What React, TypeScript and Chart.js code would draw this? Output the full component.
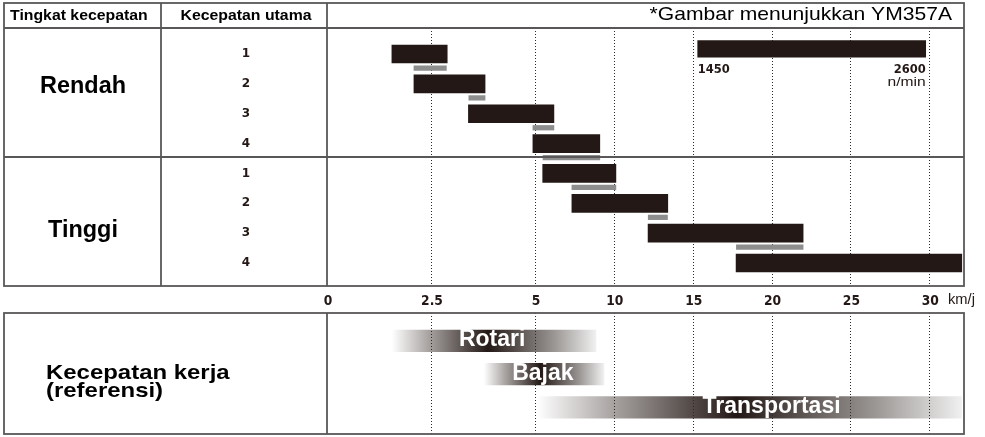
import React, { useEffect, useRef } from 'react';
import { Chart, registerables, LinearScale } from 'chart.js';

Chart.register(...registerables);

// ---------------- data ----------------
const HEADER_LABELS = ['Tingkat kecepatan', 'Kecepatan utama'];
const NOTE_TEXT = '*Gambar menunjukkan YM357A';
const RANGE_LABELS = ['Rendah', 'Tinggi'];
const GEAR_LABELS = ['1', '2', '3', '4'];

const SPEED_TICKS = [0, 2.5, 5, 10, 15, 20, 25, 30];
const SPEED_TICK_LABELS = ['0', '2.5', '5', '10', '15', '20', '25', '30'];
const SPEED_UNIT = 'km/j';

// main gear speed ranges (km/j)
const LOW_START = [1.56, 2.09, 3.4, 4.95];
const LOW_END = [2.89, 3.8, 6.2, 9.11];
const HIGH_START = [5.49, 7.34, 12.17, 17.75];
const HIGH_END = [10.13, 13.42, 22.0, 32.06];

// overlap with next gear (grey strips)
const LOW_OVERLAP_START = [2.09, 3.41, 4.95, 5.51];
const LOW_OVERLAP_END = [2.87, 3.8, 6.2, 9.11];
const HIGH_OVERLAP_START = [7.34, 12.18, 17.77];
const HIGH_OVERLAP_END = [10.13, 13.4, 22.0];

// engine speed
const ENGINE_RPM = [1450, 2600];
const ENGINE_RPM_LABELS = ['1450', '2600'];
const RPM_UNIT = 'n/min';

// working speeds (reference)
const WORK_TITLE = ['Kecepatan kerja', '(referensi)'];
const WORK_LABELS = ['Rotari', 'Bajak', 'Transportasi'];
const WORK_START = [1.56, 3.77, 5.13];
const WORK_END = [8.86, 9.37, 32.05];
const WORK_LABEL_AT = [3.97, 5.5, 20.0];

// ---------------- layout ----------------
const W = 985;
const H = 437;
const TABLE_L = 4;
const TABLE_R = 964;
const TABLE_T = 3;
const COL1 = 161;
const COL2 = 327;
const HEAD_B = 28;
const MID_LINE = 157;
const UPPER_B = 286;
const LOWER_T = 313;
const LOWER_B = 434;

const BLACK = '#231815';
const GREY = '#8e8e8e';
const LINE = '#595757';

const SPEED_AXIS_MAX = 32.2;
const SPEED_BREAK = 5;
const SPEED_BREAK_FRAC = 0.3265;

const RPM_AXIS_MIN = -419.8;
const RPM_AXIS_MAX = 2793.2;

const speedToFrac = (v: number) =>
  v <= SPEED_BREAK
    ? (v / SPEED_BREAK) * SPEED_BREAK_FRAC
    : SPEED_BREAK_FRAC + ((v - SPEED_BREAK) / (SPEED_AXIS_MAX - SPEED_BREAK)) * (1 - SPEED_BREAK_FRAC);
const fracToSpeed = (f: number) =>
  f <= SPEED_BREAK_FRAC
    ? (f / SPEED_BREAK_FRAC) * SPEED_BREAK
    : SPEED_BREAK + ((f - SPEED_BREAK_FRAC) / (1 - SPEED_BREAK_FRAC)) * (SPEED_AXIS_MAX - SPEED_BREAK);

class SpeedScale extends LinearScale {
  static id = 'speed';
  static defaults = {};
  getPixelForValue(value: any) {
    if (value === null || value === undefined || isNaN(value)) return NaN;
    return this.getPixelForDecimal(speedToFrac(value));
  }
  getValueForPixel(pixel: number) {
    return fracToSpeed(this.getDecimalForPixel(pixel));
  }
}
Chart.register(SpeedScale as any);

const SANS = '"Liberation Sans", Arial, sans-serif';
const DEJA = '"DejaVu Sans", Verdana, sans-serif';

function txt(
  ctx: CanvasRenderingContext2D,
  s: string,
  x: number,
  y: number,
  font: string,
  align: 'left' | 'center' | 'right' = 'left',
  sx = 1,
  color = '#000',
  baseline: CanvasTextBaseline = 'alphabetic'
) {
  ctx.save();
  ctx.font = font;
  ctx.fillStyle = color;
  ctx.textAlign = 'left';
  ctx.textBaseline = baseline;
  const w = ctx.measureText(s).width * sx;
  const left = align === 'center' ? x - w / 2 : align === 'right' ? x - w : x;
  ctx.translate(left, y);
  ctx.scale(sx, 1);
  ctx.fillText(s, 0, 0);
  ctx.restore();
}

function vline(ctx: CanvasRenderingContext2D, x: number, y0: number, y1: number) {
  ctx.beginPath();
  ctx.moveTo(x, y0);
  ctx.lineTo(x, y1);
  ctx.stroke();
}
function hline(ctx: CanvasRenderingContext2D, y: number, x0: number, x1: number) {
  ctx.beginPath();
  ctx.moveTo(x0, y);
  ctx.lineTo(x1, y);
  ctx.stroke();
}

function drawGrid(chart: any, y0: number, y1: number) {
  const { ctx } = chart;
  const xs = chart.scales.x;
  ctx.save();
  ctx.strokeStyle = '#2a2a2a';
  ctx.lineWidth = 1;
  ctx.setLineDash([1, 2]);
  xs.ticks.forEach((t: any) => {
    if (t.value === 0) return;
    const px = Math.round(xs.getPixelForValue(t.value)) + 0.5;
    vline(ctx, px, y0, y1);
  });
  ctx.restore();
}

const diagramPlugin = {
  id: 'diagram',
  beforeDatasetsDraw(chart: any) {
    drawGrid(chart, HEAD_B, UPPER_B);
  },
  afterDatasetsDraw(chart: any) {
    const { ctx } = chart;
    const xs = chart.scales.x;
    const ys = chart.scales.y;
    const yw = chart.scales.yWork;
    const xr = chart.scales.xRpm;

    drawGrid(chart, LOWER_T, LOWER_B);

    // table lines
    ctx.save();
    ctx.strokeStyle = LINE;
    ctx.lineWidth = 1.8;
    ctx.strokeRect(TABLE_L, TABLE_T, TABLE_R - TABLE_L, UPPER_B - TABLE_T);
    vline(ctx, COL1, TABLE_T, UPPER_B);
    vline(ctx, COL2, TABLE_T, UPPER_B);
    hline(ctx, HEAD_B, TABLE_L, TABLE_R);
    hline(ctx, MID_LINE, TABLE_L, TABLE_R);
    ctx.strokeRect(TABLE_L, LOWER_T, TABLE_R - TABLE_L, LOWER_B - LOWER_T);
    vline(ctx, COL2, LOWER_T, LOWER_B);
    ctx.restore();

    // header texts
    txt(ctx, HEADER_LABELS[0], 10, 20, `bold 14px ${SANS}`, 'left', 1.13);
    txt(ctx, HEADER_LABELS[1], 246, 20, `bold 14px ${SANS}`, 'center', 1.13);
    txt(ctx, NOTE_TEXT, 952, 19.5, `18.5px ${SANS}`, 'right', 1.14);

    // range labels
    txt(ctx, RANGE_LABELS[0], 83, 93, `bold 23px ${SANS}`, 'center', 1.02);
    txt(ctx, RANGE_LABELS[1], 83, 237, `bold 23px ${SANS}`, 'center', 1.02);

    // gear numbers
    for (let g = 0; g < 2; g++) {
      GEAR_LABELS.forEach((lab, i) => {
        const py = ys.getPixelForValue(g * 4 + i);
        txt(ctx, lab, 246, py, `bold 12px ${DEJA}`, 'center', 1, '#231815', 'middle');
      });
    }

    // speed axis tick labels
    xs.ticks.forEach((t: any, i: number) => {
      const px = xs.getPixelForValue(t.value) + 1;
      txt(ctx, SPEED_TICK_LABELS[i], px, 305, `bold 14px ${DEJA}`, 'center', 0.88, '#231815');
    });
    txt(ctx, SPEED_UNIT, 948, 304, `14px ${SANS}`, 'left', 1.05, '#231815');

    // engine rpm labels
    const r0 = xr.getPixelForValue(ENGINE_RPM[0]);
    const r1 = xr.getPixelForValue(ENGINE_RPM[1]);
    txt(ctx, ENGINE_RPM_LABELS[0], r0, 73, `bold 11.5px ${DEJA}`, 'left', 1, '#231815');
    txt(ctx, ENGINE_RPM_LABELS[1], r1, 73, `bold 11.5px ${DEJA}`, 'right', 1, '#231815');
    txt(ctx, RPM_UNIT, r1, 86, `13px ${SANS}`, 'right', 1.2, '#231815');

    // work section
    txt(ctx, WORK_TITLE[0], 46, 379, `bold 21px ${SANS}`, 'left', 1.14);
    txt(ctx, WORK_TITLE[1], 46, 397, `bold 21px ${SANS}`, 'left', 1.14);
    WORK_LABELS.forEach((lab, i) => {
      const px = xs.getPixelForValue(WORK_LABEL_AT[i]);
      const py = yw.getPixelForValue(i) + 5.5;
      txt(ctx, lab, px, py, `bold 23px ${SANS}`, 'center', 1, '#ffffff');
    });
  },
};

function workGradient(c: any) {
  const chart = c.chart;
  const xs = chart.scales && chart.scales.x;
  if (!xs || c.dataIndex === undefined || !chart.chartArea) return '#555';
  const x0 = xs.getPixelForValue(WORK_START[c.dataIndex]);
  const x1 = xs.getPixelForValue(WORK_END[c.dataIndex]);
  const g = chart.ctx.createLinearGradient(x0, 0, x1, 0);
  g.addColorStop(0, '#ffffff');
  g.addColorStop(0.18, '#a8a3a1');
  g.addColorStop(0.47, '#231815');
  g.addColorStop(0.8, '#9c9896');
  g.addColorStop(1, '#f0f0f0');
  return g;
}

const hiddenH = {
  display: false,
  offset: false,
  grid: { display: false },
  ticks: { display: false },
  border: { display: false },
  afterFit: (s: any) => {
    s.height = 0;
    s.paddingTop = s.paddingBottom = s.paddingLeft = s.paddingRight = 0;
  },
};
const hiddenV = {
  display: false,
  offset: false,
  grid: { display: false },
  ticks: { display: false },
  border: { display: false },
  afterFit: (s: any) => {
    s.width = 0;
    s.paddingTop = s.paddingBottom = s.paddingLeft = s.paddingRight = 0;
  },
};

export default function App() {
  const ref = useRef<HTMLCanvasElement | null>(null);

  useEffect(() => {
    if (!ref.current) return;
    const common = { grouped: false, borderWidth: 0, xAxisID: 'x', yAxisID: 'y' };
    const datasets: any[] = [
      {
        ...common,
        label: 'Rendah',
        data: LOW_START.map((s, i) => ({ x: [s, LOW_END[i]], y: i })),
        backgroundColor: BLACK,
        barThickness: 18,
      },
      {
        ...common,
        label: 'Tinggi',
        data: HIGH_START.map((s, i) => ({ x: [s, HIGH_END[i]], y: 4 + i })),
        backgroundColor: BLACK,
        barThickness: 18,
      },
      {
        ...common,
        label: 'Rendah overlap',
        data: LOW_OVERLAP_START.map((s, i) => ({ x: [s, LOW_OVERLAP_END[i]], y: i + 0.47 })),
        backgroundColor: GREY,
        barThickness: 4.6,
      },
      {
        ...common,
        label: 'Tinggi overlap',
        data: HIGH_OVERLAP_START.map((s, i) => ({ x: [s, HIGH_OVERLAP_END[i]], y: 4 + i + 0.47 })),
        backgroundColor: GREY,
        barThickness: 4.6,
      },
      {
        ...common,
        xAxisID: 'xRpm',
        label: 'n/min',
        data: [{ x: [ENGINE_RPM[0], ENGINE_RPM[1]], y: -0.17 }],
        backgroundColor: BLACK,
        barThickness: 16.6,
      },
      {
        ...common,
        yAxisID: 'yWork',
        label: 'Kecepatan kerja',
        data: WORK_START.map((s, i) => ({ x: [s, WORK_END[i]], y: i })),
        backgroundColor: workGradient,
        barThickness: 21.6,
      },
    ];

    const chart = new Chart(ref.current, {
      type: 'bar',
      data: { datasets },
      options: {
        indexAxis: 'y',
        animation: false,
        responsive: false,
        devicePixelRatio: 1,
        events: [],
        layout: {
          autoPadding: false,
          padding: { left: COL2, top: HEAD_B, right: W - TABLE_R, bottom: H - LOWER_B },
        },
        plugins: {
          legend: { display: false },
          title: { display: false },
          subtitle: { display: false },
          tooltip: { enabled: false },
        },
        scales: {
          x: {
            ...hiddenH,
            type: 'speed' as any,
            position: 'bottom',
            min: 0,
            max: SPEED_AXIS_MAX,
            afterBuildTicks: (s: any) => {
              s.ticks = SPEED_TICKS.map((v) => ({ value: v }));
            },
          },
          xRpm: { ...hiddenH, type: 'linear', axis: 'x', position: 'bottom', min: RPM_AXIS_MIN, max: RPM_AXIS_MAX },
          y: { ...hiddenV, type: 'linear', position: 'left', reverse: true, min: -0.871, max: 12.726 },
          yWork: { ...hiddenV, type: 'linear', axis: 'y', position: 'left', reverse: true, min: -9.38, max: 2.795 },
        },
      } as any,
      plugins: [diagramPlugin],
    });
    return () => chart.destroy();
  }, []);

  return (
    <div style={{ position: 'absolute', left: 0, top: 0, width: W, height: H, background: '#fff' }}>
      <canvas ref={ref} width={W} height={H} style={{ width: W, height: H, display: 'block' }} />
    </div>
  );
}
